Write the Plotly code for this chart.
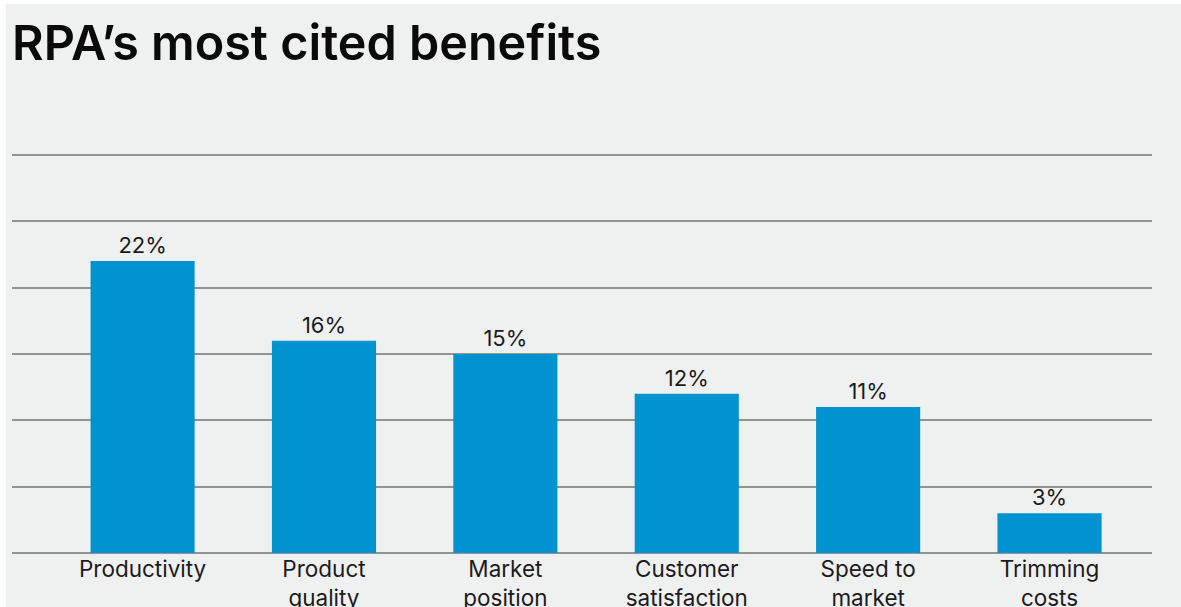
import plotly.graph_objects as go

# Survey results: share of respondents citing each benefit of RPA
categories = ["Productivity", "Product<br>quality", "Market<br>position",
              "Customer<br>satisfaction", "Speed to<br>market", "Trimming<br>costs"]
values = [22, 16, 15, 12, 11, 3]
value_labels = ["22%", "16%", "15%", "12%", "11%", "3%"]

BG = "#eff0f0"
BAR = "#0093d0"
INK = "#1b1b1b"
FONT = "Inter"

W, H = 1181, 607
ML, MR, MT, MB = 12, 29, 151, 54

fig = go.Figure(
    go.Bar(
        x=list(range(len(categories))),
        y=values,
        width=0.574,
        marker=dict(color=BAR, line=dict(width=0)),
        text=value_labels,
        textposition="outside",
        textfont=dict(family=FONT, size=22, color=INK),
        cliponaxis=False,
        hoverinfo="skip",
    )
)

# thin white margin along the top and left edges of the page
pw, ph = W - ML - MR, H - MT - MB
shapes = [
    dict(type="rect", xref="paper", yref="paper", layer="below", line=dict(width=0),
         fillcolor="white", x0=-ML / pw, x1=-(ML - 6) / pw, y0=-MB / ph, y1=(H - MB) / ph),
    dict(type="rect", xref="paper", yref="paper", layer="below", line=dict(width=0),
         fillcolor="white", x0=-ML / pw, x1=(W - ML) / pw, y0=(H - MB - 4) / ph, y1=(H - MB) / ph),
]

fig.update_layout(
    width=W,
    height=H,
    margin=dict(l=ML, r=MR, t=MT, b=MB, pad=0),
    paper_bgcolor=BG,
    plot_bgcolor=BG,
    showlegend=False,
    shapes=shapes,
    title=dict(
        text="RPA’s most cited benefits",
        font=dict(family=FONT, size=48.5, color="#0a0a0a", weight=600),
        x=12 / W, xanchor="left",
        y=1 - 43 / H, yanchor="middle",
    ),
    xaxis=dict(
        range=[-0.72, 5.565],
        tickmode="array",
        tickvals=list(range(len(categories))),
        ticktext=categories,
        tickfont=dict(family=FONT, size=22.5, color=INK),
        showgrid=False,
        zeroline=False,
        showline=False,
        ticks="",
        automargin=False,
        fixedrange=True,
    ),
    yaxis=dict(
        range=[0, 30.3],
        dtick=5,
        showticklabels=False,
        showgrid=True,
        gridcolor="#939393",
        gridwidth=1.5,
        zeroline=True,
        zerolinecolor="#939393",
        zerolinewidth=1.5,
        showline=False,
        ticks="",
        automargin=False,
        fixedrange=True,
    ),
)

fig.write_html("out.html")
